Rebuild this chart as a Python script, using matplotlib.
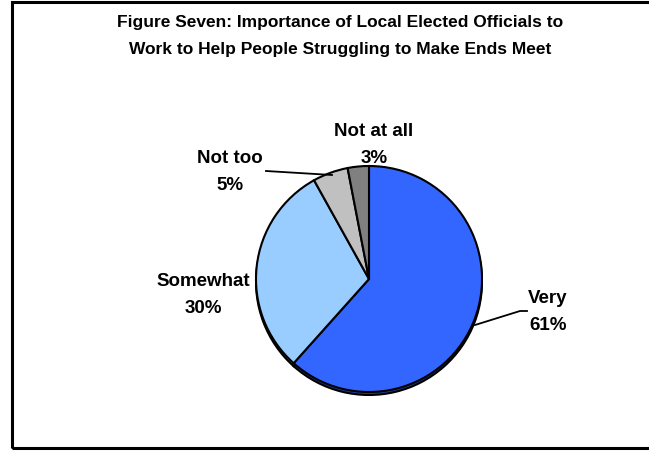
import matplotlib
matplotlib.use("Agg")
import matplotlib.pyplot as plt
from matplotlib.patches import Rectangle

categories = ["Very", "Somewhat", "Not too", "Not at all"]
values = [61, 30, 5, 3]
colors = ["#3366FF", "#99CCFF", "#C0C0C0", "#808080"]
shadow_colors = ["#1F3D99", "#5C7A99", "#737373", "#4D4D4D"]
title = "Figure Seven: Importance of Local Elected Officials to\nWork to Help People Struggling to Make Ends Meet"

FONT = ["Liberation Sans", "DejaVu Sans"]

W, H = 649, 452
fig = plt.figure(figsize=(W / 100, H / 100), dpi=100)
ax = fig.add_axes([0, 0, 1, 1])

def Y(y):
    return H - y

cx, cy, r = 369, 280, 113

# 3D-ish shadow
ax.pie(values, colors=shadow_colors, startangle=90, counterclock=False,
       center=(cx, Y(cy + 3)), radius=r, frame=True,
       wedgeprops=dict(edgecolor="black", linewidth=1.5))
wedges, _ = ax.pie(values, colors=colors, startangle=90, counterclock=False,
                   center=(cx, Y(cy)), radius=r, frame=True,
                   wedgeprops=dict(edgecolor="black", linewidth=1.5))
ax.set_xlim(0, W)
ax.set_ylim(0, H)
ax.axis("off")

# labels
label_pos = [(548, 312), (203, 295), (230, 172), (374, 145)]
for cat, v, (lx, ly) in zip(categories, values, label_pos):
    ax.text(lx, Y(ly), f"{cat}\n{v}%", ha="center", va="center",
            fontsize=13.5, family=FONT, fontweight="bold", linespacing=1.8)

# leader lines
ax.plot([475, 520, 527], [Y(326), Y(312), Y(312)], color="black", lw=1.3)
ax.plot([266, 332], [Y(172), Y(176)], color="black", lw=1.3)

fig.text(340 / W, 1 - 36 / H, title, ha="center", va="center",
         fontsize=12.5, family=FONT, fontweight="bold", linespacing=1.95)

ax.add_patch(Rectangle((12, Y(449)), 660, 446, fill=False, edgecolor="black",
                       lw=2.2, clip_on=False))

fig.savefig("out.png", dpi=100)
